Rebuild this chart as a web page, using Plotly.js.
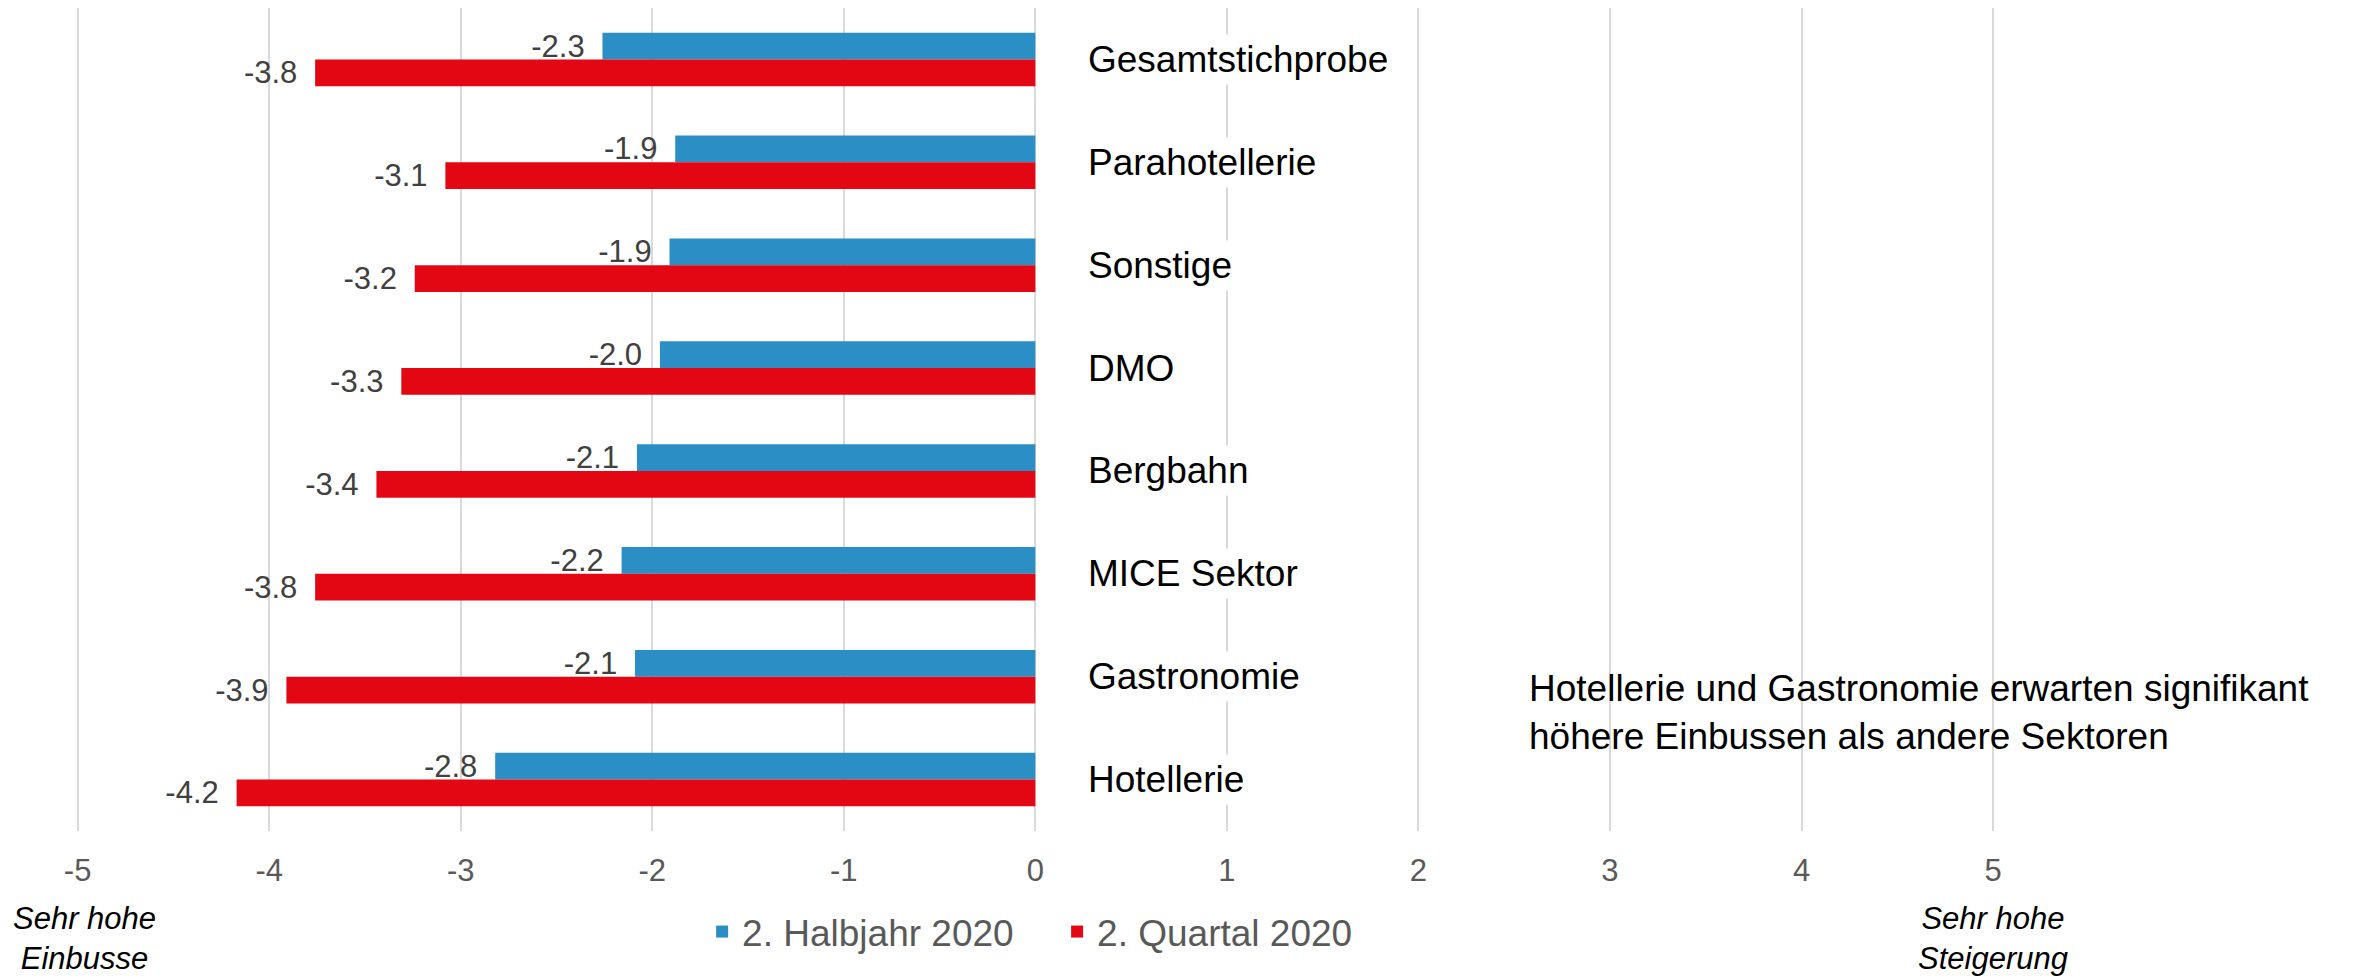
<!DOCTYPE html>
<html>
<head>
<meta charset="utf-8">
<script src="https://cdn.plot.ly/plotly-3.0.1.min.js"></script>
<style>
  html, body { margin: 0; padding: 0; background: #ffffff; }
  #chart { width: 2372px; height: 979px; }
</style>
</head>
<body>
<div id="chart"></div>
<script>
// ---- Data ----
const categories = ["Gesamtstichprobe", "Parahotellerie", "Sonstige", "DMO", "Bergbahn", "MICE Sektor", "Gastronomie", "Hotellerie"];
const seriesNames = ["2. Halbjahr 2020", "2. Quartal 2020"];
const halbjahr2020 = [-2.26, -1.88, -1.91, -1.96, -2.08, -2.16, -2.09, -2.82];
const quartal2020  = [-3.76, -3.08, -3.24, -3.31, -3.44, -3.76, -3.91, -4.17];
const xTickValues = [-5, -4, -3, -2, -1, 0, 1, 2, 3, 4, 5];
const leftEndLabel = "Sehr hohe<br>Einbusse";
const rightEndLabel = "Sehr hohe<br>Steigerung";
const noteText = "Hotellerie und Gastronomie erwarten signifikant<br>höhere Einbussen als andere Sektoren";

// ---- Styles ----
const FONT = "'Liberation Sans', Arial, sans-serif";
const BLUE = "#2B8FC5";
const RED = "#E30613";
const LABEL_PAD = "\u00A0\u2009"; // small gap between bar end and value label

function barTrace(name, values, color) {
  return {
    type: "bar",
    orientation: "h",
    name: name,
    y: categories,
    x: values,
    marker: { color: color, line: { width: 0 } },
    texttemplate: "%{x:.1f}" + LABEL_PAD,
    textposition: "outside",
    constraintext: "none",
    cliponaxis: false,
    textfont: { family: FONT, size: 31, color: "#404040" },
    hoverinfo: "skip"
  };
}

const data = [
  barTrace(seriesNames[0], halbjahr2020, BLUE),
  barTrace(seriesNames[1], quartal2020, RED)
];

// category labels (white-backed boxes right of zero)
const catAnnotations = categories.map(c => ({
  xref: "x", yref: "y",
  x: 0, y: c,
  xanchor: "left", yanchor: "middle",
  xshift: 48,
  text: c,
  showarrow: false,
  bgcolor: "#ffffff",
  borderpad: 4,
  font: { family: FONT, size: 37, color: "#000000" }
}));

const layout = {
  width: 2372,
  height: 979,
  paper_bgcolor: "#ffffff",
  plot_bgcolor: "#ffffff",
  margin: { l: 1, r: 15, t: 8, b: 148 },
  barmode: "group",
  bargap: 0.48,
  bargroupgap: 0,
  showlegend: true,
  legend: {
    orientation: "h",
    xref: "container", yref: "container",
    x: 0.296, xanchor: "left",
    y: 0.048, yanchor: "middle",
    entrywidth: 310,
    entrywidthmode: "pixels",
    font: { family: FONT, size: 37, color: "#595959" },
    bgcolor: "rgba(0,0,0,0)",
    traceorder: "normal"
  },
  xaxis: {
    range: [-5.4, 6.9],
    tickvals: xTickValues,
    ticktext: xTickValues.map(v => String(v)),
    showgrid: true,
    gridcolor: "#d9d9d9",
    gridwidth: 2,
    zeroline: false,
    showline: false,
    ticks: "",
    ticklabelstandoff: 18,
    tickfont: { family: FONT, size: 31, color: "#595959" },
    fixedrange: true
  },
  yaxis: {
    type: "category",
    categoryorder: "array",
    categoryarray: categories,
    range: [categories.length - 0.5, -0.5],
    showticklabels: false,
    showgrid: false,
    zeroline: false,
    showline: false,
    ticks: "",
    fixedrange: true
  },
  annotations: catAnnotations.concat([
    {
      xref: "x", yref: "paper",
      x: -5, y: -0.131, xshift: 7,
      xanchor: "center", yanchor: "middle",
      text: "<i>" + leftEndLabel + "</i>",
      showarrow: false,
      align: "center",
      font: { family: FONT, size: 31, color: "#000000" }
    },
    {
      xref: "x", yref: "paper",
      x: 5, y: -0.131,
      xanchor: "center", yanchor: "middle",
      text: "<i>" + rightEndLabel + "</i>",
      showarrow: false,
      align: "center",
      font: { family: FONT, size: 31, color: "#000000" }
    },
    {
      xref: "paper", yref: "paper",
      x: 0.6477, y: 0.1434,
      xanchor: "left", yanchor: "middle",
      text: noteText,
      showarrow: false,
      align: "left",
      font: { family: FONT, size: 37, color: "#000000" }
    }
  ])
};

Plotly.newPlot("chart", data, layout, { staticPlot: true, displayModeBar: false });
</script>
</body>
</html>
